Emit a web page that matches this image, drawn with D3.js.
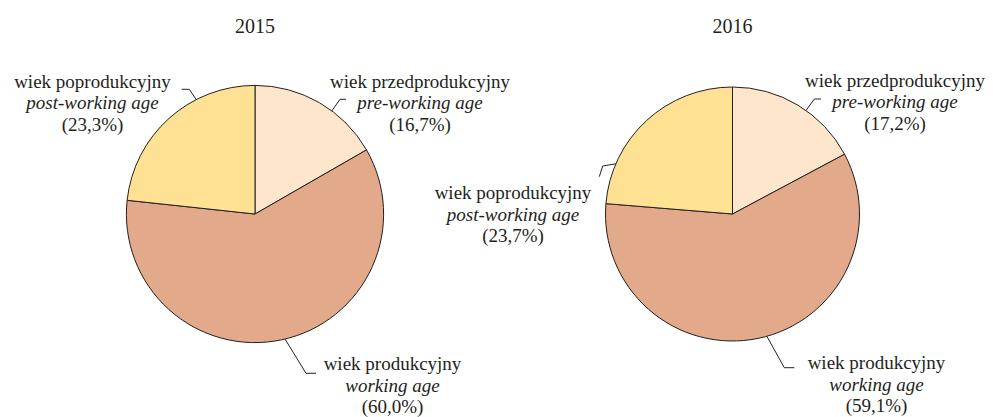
<!DOCTYPE html>
<html>
<head>
<meta charset="utf-8">
<script src="https://cdn.jsdelivr.net/npm/d3@7"></script>
<style>
  html, body { margin: 0; padding: 0; background: #ffffff; }
  svg { display: block; }
</style>
</head>
<body>
<svg id="chart" width="993" height="417"></svg>
<script>
// ---- data ----
const years = ["2015", "2016"];
const groupsPL = ["wiek przedprodukcyjny", "wiek produkcyjny", "wiek poprodukcyjny"];
const groupsEN = ["pre-working age", "working age", "post-working age"];
const values2015 = [16.7, 60.0, 23.3];
const values2016 = [17.2, 59.1, 23.7];
const seriesValues = [values2015, values2016];

// ---- styles / layout ----
const colors = ["#fee6cc", "#e2a98a", "#fee192"];
const lineColor = "#231f20";
const textColor = "#231f20";
const fontFamily = "'Liberation Serif', 'DejaVu Serif', serif";
const labelSize = 19;
const lineGap = 21.5;

const layouts = [
  {
    cx: 255, cy: 214, r: 128.6, titleY: 33,
    labels: [
      { angle: 36.7, elbow: [340, 99.3], end: [346, 99.3], text: [420, 87.5] },
      { angle: 166.5, elbow: [306, 373.3], end: [316, 373.3], text: [392.5, 370] },
      { angle: 332.8, elbow: [189.3, 89.3], end: [181.7, 89.3], text: [92.5, 87.5] }
    ]
  },
  {
    cx: 732.5, cy: 214, r: 127, titleY: 33,
    labels: [
      { angle: 35.4, elbow: [814.3, 99], end: [821, 99], text: [895, 86.5] },
      { angle: 164.3, elbow: [784.3, 367.7], end: [794.3, 367.7], text: [876.5, 369] },
      { angle: 293.3, elbow: [602.7, 166], end: [599.3, 176.7], text: [513, 199] }
    ]
  }
];

const locale = d3.formatLocale({ decimal: ",", thousands: " ", grouping: [3], currency: ["", " zł"] });
const fmt = locale.format(".1f");

const svg = d3.select("#chart");
const pie = d3.pie().sort(null).value(d => d);

years.forEach((year, i) => {
  const L = layouts[i];
  const arcs = pie(seriesValues[i]);
  const arc = d3.arc().innerRadius(0).outerRadius(L.r);

  svg.append("text")
    .attr("x", L.cx).attr("y", L.titleY)
    .attr("text-anchor", "middle")
    .attr("font-family", fontFamily)
    .attr("font-size", 20)
    .attr("fill", textColor)
    .text(year);

  const g = svg.append("g").attr("transform", `translate(${L.cx},${L.cy})`);
  g.selectAll("path.slice")
    .data(arcs)
    .join("path")
    .attr("class", "slice")
    .attr("d", arc)
    .attr("fill", (d, k) => colors[k])
    .attr("stroke", lineColor)
    .attr("stroke-width", 1)
    .attr("stroke-linejoin", "round");

  arcs.forEach((d, k) => {
    const lab = L.labels[k];
    const a = lab.angle * Math.PI / 180;
    const sx = L.cx + L.r * Math.sin(a);
    const sy = L.cy - L.r * Math.cos(a);
    svg.append("path")
      .attr("d", d3.line()([[sx, sy], lab.elbow, lab.end]))
      .attr("fill", "none")
      .attr("stroke", lineColor)
      .attr("stroke-width", 1);

    const t = svg.append("text")
      .attr("x", lab.text[0]).attr("y", lab.text[1])
      .attr("text-anchor", "middle")
      .attr("font-family", fontFamily)
      .attr("font-size", labelSize)
      .attr("fill", textColor);
    t.append("tspan").attr("x", lab.text[0]).attr("dy", 0)
      .attr("font-family", fontFamily).text(groupsPL[k]);
    t.append("tspan").attr("x", lab.text[0]).attr("dy", lineGap)
      .attr("font-family", fontFamily).attr("font-style", "italic").text(groupsEN[k]);
    t.append("tspan").attr("x", lab.text[0]).attr("dy", lineGap)
      .attr("font-family", fontFamily).text("(" + fmt(d.data) + "%)");
  });
});
</script>
</body>
</html>
